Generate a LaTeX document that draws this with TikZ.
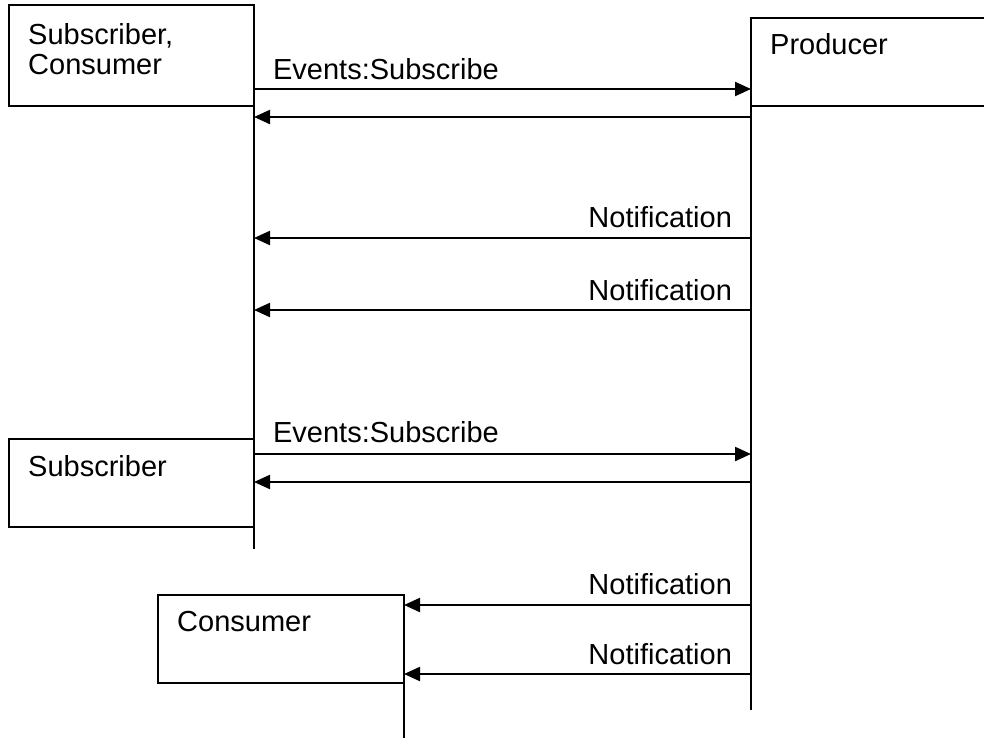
\documentclass[tikz,border=0pt]{standalone}
\usepackage{fontspec}
\setmainfont{Liberation Sans}
\usetikzlibrary{arrows.meta,positioning}

\begin{document}
\begin{tikzpicture}[line cap=butt,line join=miter,>={Triangle[length=16pt,width=14pt]},x=1pt,y=-1pt,
  box/.style={draw=black,fill=white,line width=2.6pt,minimum height=88pt,anchor=north west,inner sep=0pt,outer sep=0pt},
  life/.style={line width=2.2pt},
  msg/.style={line width=2.2pt,->},
  boxtxt/.style={anchor=north west,align=left,inner sep=0pt,font=\fontsize{29}{30}\selectfont},
  sendtxt/.style={anchor=base west,inner sep=0pt,font=\fontsize{29}{30}\selectfont},
  backtxt/.style={anchor=base east,inner sep=0pt,font=\fontsize{29}{30}\selectfont}]
\useasboundingbox (0,0) rectangle (984,737);
\node[box,minimum width=245pt,minimum height=101pt] (subcon) at (9,5) {};
\node[box,minimum width=260pt] (prod) at (751,18) {};
\node[box,minimum width=245pt] (sub) at (9,439) {};
\node[box,minimum width=246pt] (cons) at (158,595) {};
\node[boxtxt] (subcontxt) at (28,23) {Subscriber,\\Consumer};
\node[boxtxt] (prodtxt) at (770,33) {Producer};
\node[boxtxt] (subtxt) at (28,455) {Subscriber};
\node[boxtxt] (constxt) at (177,611) {Consumer};
\coordinate (subend) at (254,549);
\coordinate (prodend) at (751,710);
\coordinate (consend) at (404,740);
\draw[life] (subcon.south east) -- (subcon.south east |- subend);
\draw[life] (prod.south west) -- (prod.south west |- prodend);
\draw[life] (cons.south east) -- (cons.south east |- consend);
\coordinate (p1) at (751,89);
\coordinate (p2) at (751,117);
\coordinate (p3) at (751,238);
\coordinate (p4) at (751,310);
\coordinate (p5) at (751,454);
\coordinate (p6) at (751,482);
\coordinate (p7) at (751,605);
\coordinate (p8) at (751,674);
\draw[msg] (subcon.east |- p1) -- (p1) node[sendtxt,pos=0,xshift=18pt,yshift=10pt] (sub1) {Events:Subscribe};
\draw[msg] (p2) -- (subcon.east |- p2);
\draw[msg] (p3) -- (subcon.east |- p3) node[backtxt,pos=0,xshift=-18pt,yshift=11pt] (note1) {Notification};
\draw[msg] (p4) -- (subcon.east |- p4) node[backtxt,pos=0,xshift=-18pt,yshift=10pt] (note2) {Notification};
\draw[msg] (sub.east |- p5) -- (p5) node[sendtxt,pos=0,xshift=18pt,yshift=12pt] (sub2) {Events:Subscribe};
\draw[msg] (p6) -- (sub.east |- p6);
\draw[msg] (p7) -- (cons.east |- p7) node[backtxt,pos=0,xshift=-18pt,yshift=11pt] (note3) {Notification};
\draw[msg] (p8) -- (cons.east |- p8) node[backtxt,pos=0,xshift=-18pt,yshift=10pt] (note4) {Notification};
\end{tikzpicture}
\end{document}
